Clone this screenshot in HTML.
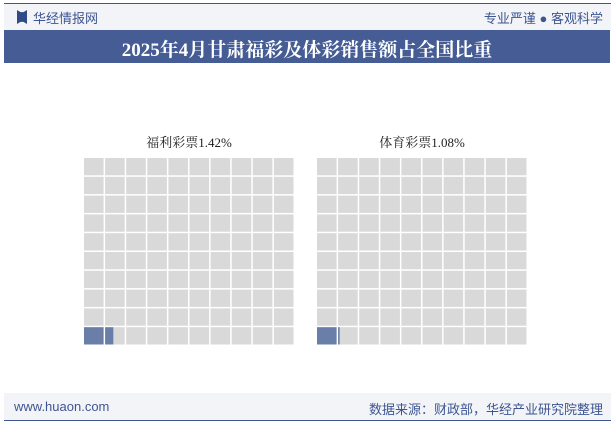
<!DOCTYPE html>
<html><head><meta charset="utf-8"><style>
body{margin:0;width:615px;height:427px;background:#fff;position:relative;overflow:hidden;font-family:"Liberation Sans","Noto Sans CJK SC",sans-serif;}
.abs{position:absolute;}
</style></head><body>
<div class="abs" style="left:4px;top:3px;width:607px;height:27px;background:#f3f4f8;border-top:1px solid #3d5591;"></div>
<div class="abs" style="left:17px;top:10px;width:10px;height:14px;background:#2f4a86;clip-path:polygon(0 0,35% 15%,65% 15%,100% 0,100% 100%,65% 85%,35% 85%,0 100%);"></div>
<div class="abs" style="left:33px;top:8px;font-size:13px;color:#3d5591;">华经情报网</div>
<div class="abs" style="right:12px;top:8px;font-size:13px;color:#3d5591;">专业严谨 ● 客观科学</div>
<div class="abs" style="left:4px;top:30px;width:606px;height:33px;background:#455d94;"></div>
<div class="abs" style="left:4px;top:35px;width:606px;text-align:center;font-size:19px;font-weight:bold;color:#fff;font-family:'Liberation Serif','Noto Serif CJK SC',serif;">2025年4月甘肃福彩及体彩销售额占全国比重</div>
<svg class="abs" style="left:0;top:0" width="615" height="427" id="chart"></svg>
<div class="abs" style="left:4px;top:393px;width:607px;height:27px;background:#f3f4f8;border-bottom:1px solid #3d5591;"></div>
<div class="abs" style="left:14px;top:399px;font-size:13px;color:#3d5591;">www.huaon.com</div>
<div class="abs" style="right:12px;top:399px;font-size:13px;color:#3d5591;">数据来源：财政部，华经产业研究院整理</div>
<script>
const categories=["福利彩票","体育彩票"];
const values=[1.42,1.08];
const svg=document.getElementById('chart');
const NS="http://www.w3.org/2000/svg";
const originsX=[84,317], top0=158, cw=21.1, ch=18.8;
categories.forEach((c,k)=>{
  const x0=originsX[k];
  const t=document.createElementNS(NS,'text');
  t.setAttribute('x',x0+105);t.setAttribute('y',147);t.setAttribute('text-anchor','middle');
  t.setAttribute('font-size','13');t.setAttribute('fill','#222');
  t.setAttribute('font-family',"'Liberation Serif','Noto Serif CJK SC',serif");
  t.textContent=c+values[k].toFixed(2)+'%';
  
  
  svg.appendChild(t);
  let rem=values[k];
  for(let i=0;i<100;i++){
    const col=i%10,row=9-Math.floor(i/10);
    const x=x0+col*cw,y=top0+row*ch;
    const r=document.createElementNS(NS,'rect');
    r.setAttribute('x',x);r.setAttribute('y',y);r.setAttribute('width',cw-1.5);r.setAttribute('height',ch-1.5);
    r.setAttribute('fill','#d9d9d9');
    
    
    svg.appendChild(r);
    const f=Math.max(0,Math.min(1,rem-i));
    if(f>0){
      const p=document.createElementNS(NS,'rect');
      p.setAttribute('x',x);p.setAttribute('y',y);p.setAttribute('width',(cw-1.5)*f);p.setAttribute('height',ch-1.5);
      p.setAttribute('fill','#6a7fa8');
      
      
      svg.appendChild(p);
    }
  }
});
</script>
</body></html>
